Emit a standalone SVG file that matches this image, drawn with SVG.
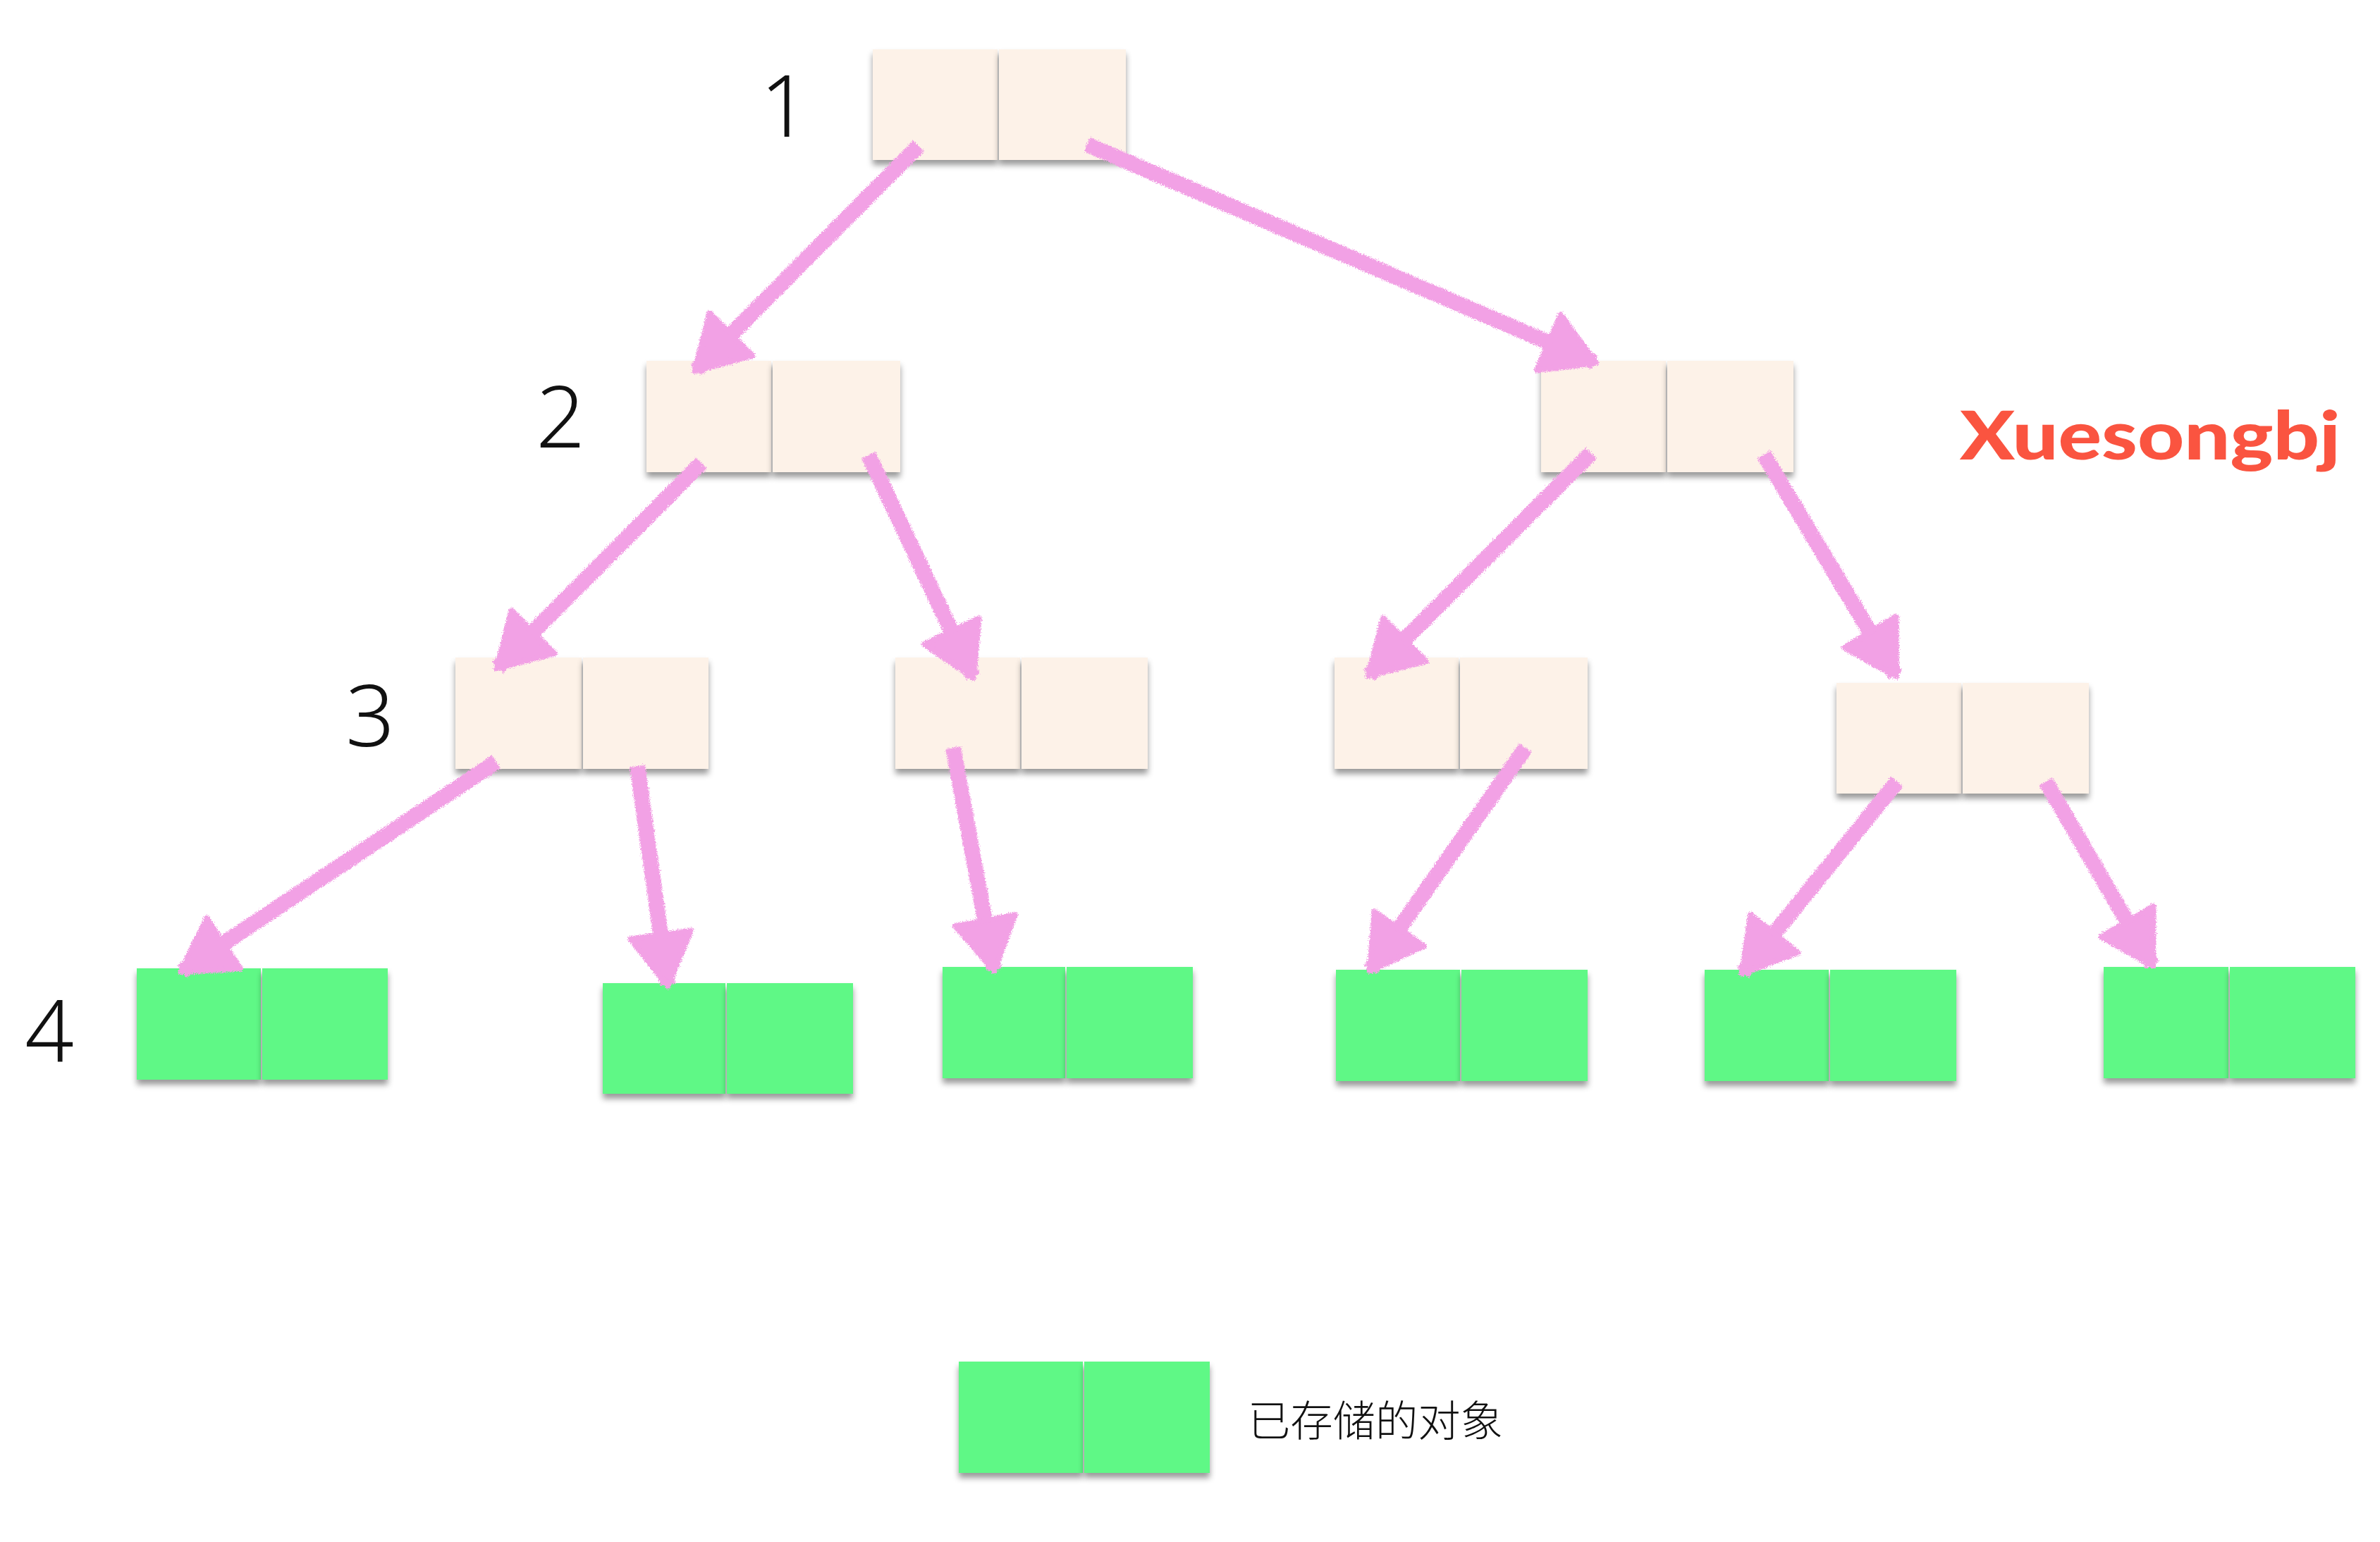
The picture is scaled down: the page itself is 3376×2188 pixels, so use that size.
<svg xmlns="http://www.w3.org/2000/svg" width="3376" height="2188" viewBox="0 0 3376 2188">
<style>
.cell{fill:#FDF2E8;filter:url(#sh)}
.g{fill:#5EF886;filter:url(#sh)}
.num{font-family:"Noto Sans","Liberation Sans",sans-serif;font-size:122px;font-weight:300;fill:#111;text-anchor:middle}
.cn{font-family:"Noto Sans CJK SC","Noto Sans",sans-serif;font-size:60px;font-weight:300;fill:#111}
.wm{font-family:Lato,"Open Sans",sans-serif;font-weight:900;font-size:96px;fill:#FA5440}
.arr{stroke:#F2A1E5;stroke-width:22;fill:none;stroke-linecap:butt;marker-end:url(#ah)}
</style>
<defs>
<filter id="sh" x="-5%" y="-5%" width="110%" height="120%">
<feDropShadow dx="0" dy="7" stdDeviation="4" flood-color="#000" flood-opacity="0.4"/>
</filter>
<filter id="chalk" x="-5%" y="-5%" width="110%" height="110%">
<feTurbulence type="fractalNoise" baseFrequency="0.7" numOctaves="2" seed="3" result="n"/>
<feDisplacementMap in="SourceGraphic" in2="n" scale="8" xChannelSelector="R" yChannelSelector="G"/>
</filter>
<marker id="ah" viewBox="0 0 84 96" markerWidth="84" markerHeight="96" refX="76" refY="48" orient="auto" markerUnits="userSpaceOnUse">
<path d="M5,5 L78,48 L5,91 Z" fill="#F2A1E5" stroke="#F2A1E5" stroke-width="8" stroke-linejoin="round"/>
</marker>
</defs>
<rect width="3376" height="2188" fill="#fff"/>
<g id="labels">
<text class="num" x="1113" y="194">1</text>
<text class="num" x="795" y="635">2</text>
<text class="num" x="525" y="1059">3</text>
<text class="num" x="70" y="1507">4</text>
<text class="wm" x="2780" y="652" textLength="540" lengthAdjust="spacingAndGlyphs">Xuesongbj</text>
</g>
<g id="n1"><rect class="cell" x="1238" y="70" width="177" height="157"/><rect class="cell" x="1417" y="70" width="180" height="157"/></g>
<g id="n2a"><rect class="cell" x="917" y="512" width="177" height="158"/><rect class="cell" x="1096" y="512" width="181" height="158"/></g>
<g id="n2b"><rect class="cell" x="2186" y="512" width="177" height="158"/><rect class="cell" x="2365" y="512" width="179" height="158"/></g>
<g id="n3a"><rect class="cell" x="646" y="933" width="179" height="158"/><rect class="cell" x="827" y="933" width="178" height="158"/></g>
<g id="n3b"><rect class="cell" x="1270" y="933" width="177" height="158"/><rect class="cell" x="1449" y="933" width="179" height="158"/></g>
<g id="n3c"><rect class="cell" x="1893" y="933" width="176" height="158"/><rect class="cell" x="2071" y="933" width="181" height="158"/></g>
<g id="n3d"><rect class="cell" x="2605" y="969" width="177" height="157"/><rect class="cell" x="2784" y="969" width="179" height="157"/></g>
<g id="n4a"><rect class="g" x="194" y="1374" width="176" height="158"/><rect class="g" x="372" y="1374" width="178" height="158"/></g>
<g id="n4b"><rect class="g" x="855" y="1395" width="174" height="157"/><rect class="g" x="1031" y="1395" width="179" height="157"/></g>
<g id="n4c"><rect class="g" x="1337" y="1372" width="174" height="158"/><rect class="g" x="1513" y="1372" width="179" height="158"/></g>
<g id="n4d"><rect class="g" x="1895" y="1376" width="176" height="158"/><rect class="g" x="2073" y="1376" width="179" height="158"/></g>
<g id="n4e"><rect class="g" x="2418" y="1376" width="176" height="158"/><rect class="g" x="2596" y="1376" width="179" height="158"/></g>
<g id="n4f"><rect class="g" x="2984" y="1372" width="177" height="158"/><rect class="g" x="3163" y="1372" width="178" height="158"/></g>
<g id="legend">
<rect class="g" x="1360" y="1932" width="176" height="158"/><rect class="g" x="1538" y="1932" width="178" height="158"/>
<text class="cn" x="1770" y="2038" textLength="362" lengthAdjust="spacingAndGlyphs">已存储的对象</text>
</g>
<g id="connectors" filter="url(#chalk)">
<line class="arr" x1="1303" y1="207" x2="987" y2="525"/>
<line class="arr" x1="1542" y1="205" x2="2262" y2="514"/>
<line class="arr" x1="995" y1="657" x2="706" y2="947"/>
<line class="arr" x1="1232" y1="646" x2="1380" y2="960"/>
<line class="arr" x1="2257" y1="643" x2="1942" y2="958"/>
<line class="arr" x1="2502" y1="645" x2="2689" y2="958"/>
<line class="arr" x1="704" y1="1081" x2="258" y2="1378"/>
<line class="arr" x1="904" y1="1087" x2="947" y2="1397"/>
<line class="arr" x1="1352" y1="1061" x2="1410" y2="1376"/>
<line class="arr" x1="2164" y1="1061" x2="1944" y2="1376"/>
<line class="arr" x1="2691" y1="1109" x2="2472" y2="1380"/>
<line class="arr" x1="2902" y1="1109" x2="3053" y2="1369"/>
</g>
</svg>
